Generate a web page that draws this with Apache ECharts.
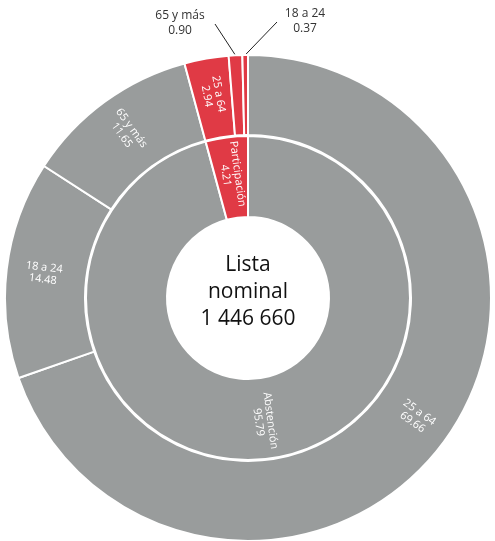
<!DOCTYPE html>
<html><head><meta charset="utf-8">
<script src="https://cdn.jsdelivr.net/npm/echarts@6/dist/echarts.min.js"></script>
<style>html,body{margin:0;padding:0;background:#fff}#c{width:495px;height:541px}</style>
</head><body><div id="c"></div>
<script>
// Inner ring: participation vs abstention
const innerNames = ['Abstención', 'Participación'];
const innerValues = [95.79, 4.21];
// Outer ring: age groups
const outerNames = ['25 a 64', '18 a 24', '65 y más', '25 a 64', '65 y más', '18 a 24'];
const outerValues = [69.66, 14.48, 11.65, 2.94, 0.90, 0.37];
const outerGroup = ['Abstención','Abstención','Abstención','Participación','Participación','Participación'];
const centerLines = ['Lista', 'nominal', '1 446 660'];

const GREY = '#999c9c', RED = '#e03a45';
const colorOf = g => g === 'Participación' ? RED : GREY;
const FONT = '"Open Sans", "Noto Sans", sans-serif';

const chart = echarts.init(document.getElementById('c'), null, {renderer: 'canvas'});
const fmt = p => p.name + '\n' + Number(p.value).toFixed(2);

const outsideIdx = {4: {x: 180, y: 38}, 5: {x: 305, y: 36}};

chart.setOption({
  animation: false,
  graphic: [{
    type: 'text',
    style: {text: centerLines.join('\n'), x: 248, y: 292, align: 'center', verticalAlign: 'middle',
      font: '21px ' + FONT, fill: '#111', lineHeight: 27}
  }],
  series: [{
    type: 'pie', center: [248, 298], radius: [81, 162], startAngle: 90, clockwise: true,
    avoidLabelOverlap: false, silent: true,
    itemStyle: {borderColor: '#fff', borderWidth: 2},
    label: {position: 'inside', rotate: 'radial', formatter: fmt, color: '#fff',
      fontFamily: FONT, fontSize: 11, lineHeight: 12},
    labelLine: {show: false},
    data: innerNames.map((n, i) => ({name: n, value: innerValues[i], itemStyle: {color: colorOf(n)}}))
  }, {
    type: 'pie', center: [248, 298], radius: [163, 243], startAngle: 90, clockwise: true,
    avoidLabelOverlap: false, silent: true,
    itemStyle: {borderColor: '#fff', borderWidth: 2},
    label: {position: 'inside', rotate: 'radial', formatter: fmt, color: '#fff',
      fontFamily: FONT, fontSize: 11, lineHeight: 12},
    labelLine: {show: false},
    labelLayout: function (p) {
      const o = outsideIdx[p.dataIndex];
      if (!o) return {};
      const res = {x: o.x, y: o.y, align: 'center', verticalAlign: 'bottom', rotate: 0};
      if (p.labelLinePoints && p.labelLinePoints.length) {
        const s = p.labelLinePoints[0];
        const end = s[0] < o.x ? [o.x - 28, o.y - 14] : [o.x + 35, o.y - 14];
        res.labelLinePoints = [s, end, end];
      }
      return res;
    },
    data: outerNames.map((n, i) => {
      const d = {name: n, value: outerValues[i], itemStyle: {color: colorOf(outerGroup[i])}};
      if (outsideIdx[i]) {
        d.label = {position: 'outside', rotate: 0, color: '#333', fontSize: 12, lineHeight: 15};
        d.labelLine = {show: true, length: 10, length2: 5, lineStyle: {color: '#222', width: 1}};
      }
      return d;
    })
  }]
});
</script></body></html>
